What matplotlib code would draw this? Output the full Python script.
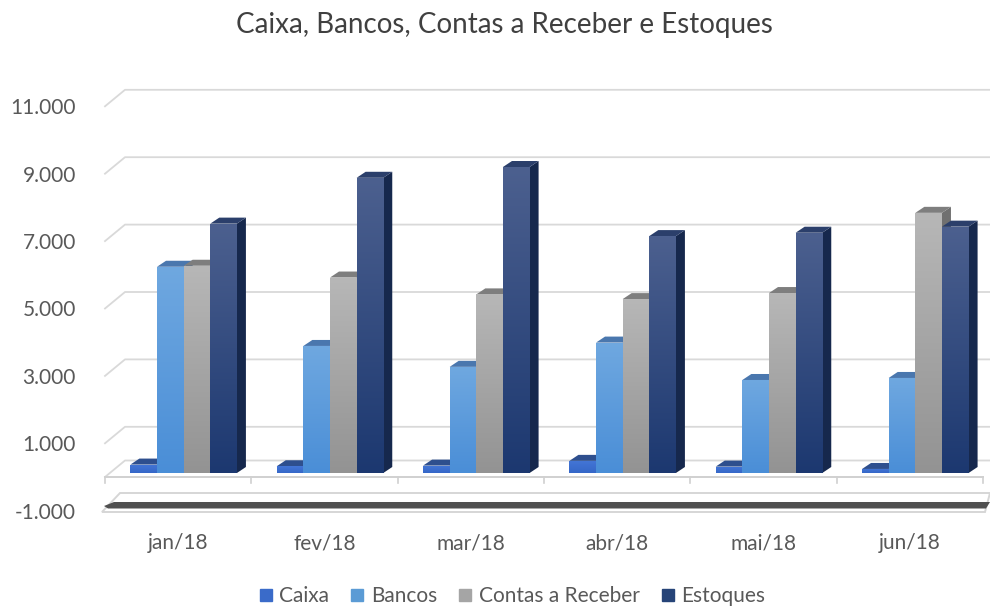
import numpy as np
import matplotlib
matplotlib.use("Agg")
import matplotlib.pyplot as plt
from matplotlib.patches import Polygon
from matplotlib.lines import Line2D
from matplotlib.colors import LinearSegmentedColormap
from matplotlib.transforms import ScaledTranslation

plt.rcParams['font.family'] = ['Lato', 'DejaVu Sans']

# data
meses = ["jan/18", "fev/18", "mar/18", "abr/18", "mai/18", "jun/18"]
series = ["Caixa", "Bancos", "Contas a Receber", "Estoques"]
caixa = [250, 200, 220, 360, 190, 120]
bancos = [6120, 3770, 3150, 3870, 2760, 2820]
contas = [6150, 5800, 5300, 5160, 5340, 7720]
estoques = [7400, 8760, 9080, 7030, 7130, 7310]
yticks = [-1000, 1000, 3000, 5000, 7000, 9000, 11000]
grid_vals = [0, 1000, 3000, 5000, 7000, 9000, 11000]

# colours: (front bottom, front top, top face, side face, legend)
styles = [
    ("#3567C8", "#4476D6", "#2E4F8E", "#27467F", "#3A6BC9"),
    ("#4A8ED7", "#6FA8E0", "#4A77AE", "#3B6699", "#5B9BD5"),
    ("#939393", "#B7B7B7", "#7E7E7E", "#707070", "#A5A5A5"),
    ("#1C3870", "#4C608F", "#2B3F6B", "#16284D", "#264478"),
]

W, H = 990, 606
fig = plt.figure(figsize=(W / 100, H / 100), dpi=100)
ax_left, ax_w = 105, 878
y0_px, px_per_unit = 473, 0.0337
ax_bottom = y0_px + 1000 * px_per_unit
ax_h = 12000 * px_per_unit
ax = fig.add_axes([ax_left / W, 1 - ax_bottom / H, ax_w / W, ax_h / H])
px_per_cat = ax_w / 6


def dx(px):
    return px / px_per_cat


def dy(px):
    return px / px_per_unit


def xv(px):
    return (px - ax_left) / px_per_cat - 0.5


def yv(px):
    return (y0_px - px) / px_per_unit


# back wall gridlines
for g in grid_vals:
    ax.plot([-0.5, -0.5 + dx(20), xv(990)], [g - dy(4), g + dy(12.5), g + dy(12.5)],
            color="#D9D9D9", lw=1.3, zorder=1, clip_on=False)

# front axis line with category ticks
ax.plot([-0.5, 5.5], [yv(477), yv(477)], color="#D0D0D0", lw=1.4, zorder=2, clip_on=False)
for b in np.arange(-0.5, 6, 1):
    ax.plot([b, b], [yv(477), yv(483)], color="#D0D0D0", lw=1.2, zorder=2, clip_on=False)

# floor slab
slab = Polygon([(xv(102), yv(512)), (xv(120), yv(493)), (xv(990), yv(493)), (xv(985), yv(512))],
               closed=True, facecolor="white", edgecolor="#D6D6D6", lw=1.4, zorder=2, clip_on=False)
ax.add_patch(slab)
band = Polygon([(xv(104), yv(506)), (xv(114), yv(502)), (xv(990), yv(502)), (xv(986), yv(508.5)),
                (xv(108), yv(508.5))],
               closed=True, facecolor="#505050", edgecolor="none", zorder=3, clip_on=False)
ax.add_patch(band)

# pseudo 3D bars
BW = 0.182
SHIFT = 0.0375
DX, DY = dx(9), dy(6)
grad = np.linspace(0, 1, 128).reshape(-1, 1)
x = np.arange(len(meses))
for j, vals in enumerate([caixa, bancos, contas, estoques]):
    c_bot, c_top, c_cap, c_side, _ = styles[j]
    z = 10 + 2 * j
    bars = ax.bar(x + SHIFT + (j - 1.5) * BW, vals, width=BW, color=c_bot, lw=0, zorder=z + 0.5)
    cmap = LinearSegmentedColormap.from_list("g%d" % j, [c_bot, c_top])
    for bar in bars:
        x0 = bar.get_x()
        x1 = x0 + bar.get_width()
        v = bar.get_height()
        ax.add_patch(Polygon([(x1, 0), (x1 + DX, DY), (x1 + DX, v + DY), (x1, v)],
                             closed=True, facecolor=c_side, lw=0, zorder=z))
        ax.add_patch(Polygon([(x0, v), (x1, v), (x1 + DX, v + DY), (x0 + DX, v + DY)],
                             closed=True, facecolor=c_cap, lw=0, zorder=z))
        im = ax.imshow(grad, cmap=cmap, extent=(x0, x1, 0, v), origin="lower",
                       aspect="auto", zorder=z + 0.6)
        im.set_clip_path(bar)

ax.set_xlim(-0.5, 5.5)
ax.set_ylim(-1000, 11000)
for s in ax.spines.values():
    s.set_visible(False)
ax.set_yticks(yticks)
ax.set_yticklabels([f"{v:,}".replace(",", ".") for v in yticks])
ax.set_xticks(x)
ax.set_xticklabels(meses)
ax.tick_params(axis="y", length=0, pad=21, labelsize=15, labelcolor="#595959")
ax.tick_params(axis="x", length=0, pad=19, labelsize=15, labelcolor="#595959")
shift_down = ScaledTranslation(0, -4 / 100, fig.dpi_scale_trans)
for lab in ax.get_yticklabels():
    lab.set_transform(lab.get_transform() + shift_down)

fig.text(0.51, 1 - 25 / H, "Caixa, Bancos, Contas a Receber e Estoques",
         ha="center", va="center", fontsize=20, color="#404040")

handles = [Line2D([], [], marker="s", ls="none", markersize=9, color=st[4]) for st in styles]
fig.legend(handles, series, loc="center", bbox_to_anchor=(0.517, 1 - 596 / H), ncol=4,
           frameon=False, fontsize=15, handlelength=0.7, handletextpad=0.3,
           columnspacing=1.0, labelcolor="#595959")

fig.savefig("out.png", dpi=100)
